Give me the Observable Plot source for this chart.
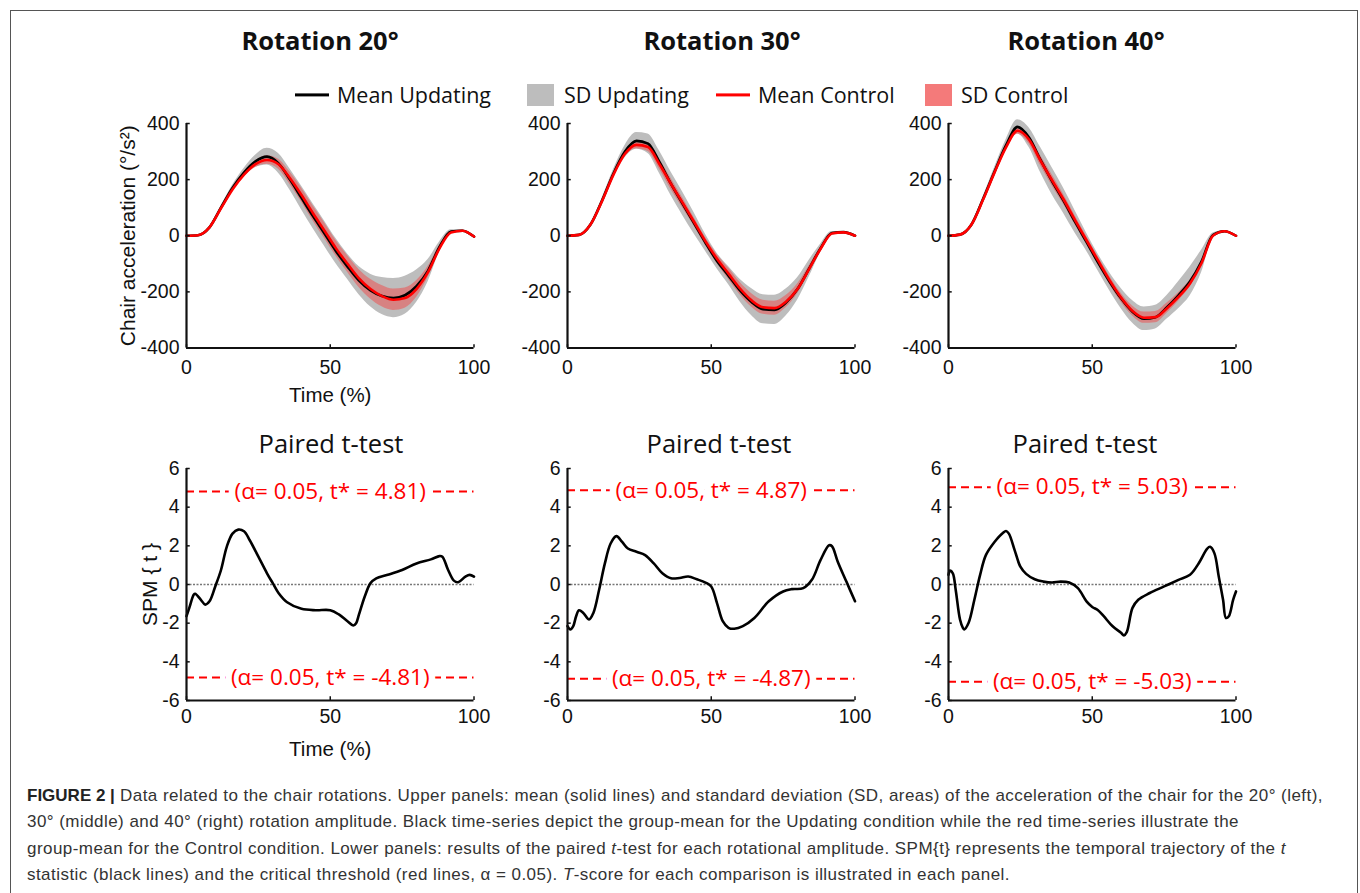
<!DOCTYPE html>
<html>
<head>
<meta charset="utf-8">
<script src="https://cdn.jsdelivr.net/npm/d3@7"></script>
<script src="https://cdn.jsdelivr.net/npm/@observablehq/plot@0.6"></script>
<style>
  html, body { margin: 0; padding: 0; background: #fff; }
  #page { position: relative; width: 1360px; height: 893px; overflow: hidden; background: #fff; }
  #frame { position: absolute; left: 10px; top: 10px; width: 1348px; height: 920px; border: 1.5px solid #555; box-sizing: border-box; }
  .abs { position: absolute; }
  .ctr { transform: translate(-50%, -50%); white-space: nowrap; line-height: 1; }
  .rot { font-family: "Open Sans", sans-serif; font-weight: 700; font-size: 25.5px; color: #111; }
  .ptt { font-family: "Open Sans", sans-serif; font-weight: 400; font-size: 25.5px; color: #111; }
  .leg { font-family: "Open Sans", sans-serif; font-size: 21.5px; color: #111; transform: translateY(-50%); white-space: nowrap; line-height: 1; }
  .sw  { transform: translateY(-50%); }
  #caption { position: absolute; left: 27px; top: 783px; font-family: "Liberation Sans", Arial, sans-serif; font-size: 17px; letter-spacing: 0.45px; line-height: 26.3px; color: #333; white-space: nowrap; }
  #caption b { color: #222; letter-spacing: 0; }
</style>
</head>
<body>
<div id="page">
  <div id="frame"></div>
</div>
<script>
// ---------------- DATA ----------------
const rotations = ["Rotation 20°", "Rotation 30°", "Rotation 40°"];
const legendLabels = ["Mean Updating", "SD Updating", "Mean Control", "SD Control"];
const topYTicks = [-400, -200, 0, 200, 400];
const botYTicks = [-6, -4, -2, 0, 2, 4, 6];
const xTicks = [0, 50, 100];
const topYLabel = "Chair acceleration (°/s²)";
const botYLabel = "SPM { t }";
const xLabel = "Time (%)";

// time (%) grid for the upper panels
const timeTop = [0, 4, 8, 12, 16, 20, 24, 28, 32, 36, 40, 44, 48, 52, 56, 60, 64, 68, 72, 76, 80, 84, 88, 92, 96, 100];

// Rotation 20°
const meanUpd20 = [0, 2, 30, 100, 170, 225, 265, 282, 258, 200, 135, 70, 8, -55, -110, -160, -195, -215, -222, -212, -180, -125, -40, 15, 18, -3];
const sdUpd20   = [0, 0, 3, 6, 10, 15, 22, 30, 35, 38, 42, 44, 45, 45, 45, 50, 58, 66, 70, 68, 58, 40, 18, 6, 3, 2];
const meanCtl20 = [0, 2, 30, 98, 165, 218, 255, 270, 255, 205, 145, 80, 18, -45, -100, -152, -190, -215, -228, -222, -190, -130, -45, 12, 18, -3];
const sdCtl20   = [0, 0, 2, 5, 8, 10, 12, 15, 18, 22, 25, 27, 28, 28, 30, 32, 35, 38, 38, 36, 30, 20, 10, 4, 2, 1];

// Rotation 30°
const meanUpd30 = [0, 3, 40, 125, 222, 300, 338, 328, 262, 185, 115, 45, -25, -90, -142, -195, -236, -262, -264, -238, -190, -118, -45, 10, 13, 0];
const sdUpd30   = [0, 0, 3, 8, 14, 22, 30, 35, 40, 42, 42, 38, 30, 28, 32, 40, 48, 52, 52, 48, 40, 30, 15, 5, 2, 1];
const meanCtl30 = [0, 3, 40, 123, 218, 292, 324, 316, 255, 185, 118, 50, -20, -82, -135, -188, -230, -255, -258, -235, -190, -120, -47, 8, 12, 0];
const sdCtl30   = [0, 0, 2, 4, 7, 10, 14, 16, 18, 20, 18, 15, 14, 16, 20, 22, 24, 25, 25, 22, 18, 12, 6, 3, 1, 0];

// Rotation 40°
const meanUpd40 = [0, 4, 40, 130, 228, 322, 388, 350, 270, 195, 125, 50, -22, -95, -163, -223, -271, -296, -290, -255, -212, -163, -92, 2, 16, 0];
const sdUpd40   = [0, 0, 3, 8, 14, 20, 25, 35, 45, 48, 45, 40, 32, 30, 32, 36, 40, 42, 42, 42, 48, 52, 40, 8, 3, 1];
const meanCtl40 = [0, 4, 40, 128, 225, 315, 374, 343, 268, 198, 130, 56, -16, -88, -158, -220, -268, -292, -290, -258, -218, -170, -98, 0, 16, 0];
const sdCtl40   = [0, 0, 2, 4, 6, 9, 12, 15, 18, 20, 18, 16, 14, 14, 15, 16, 18, 20, 20, 18, 15, 12, 8, 3, 1, 0];

// SPM{t} trajectories (paired t-test)
const spmTime20 = [0, 1, 2.5, 3, 5, 6.5, 8, 10, 12, 14, 16, 18, 20, 22, 25, 28, 30, 32, 35, 40, 45, 50, 53, 56, 58, 59, 60, 62, 64, 66, 70, 75, 80, 85, 88, 89, 91, 93, 94.5, 97, 98.5, 100];
const spm20     = [-1.64, -1.2, -0.53, -0.48, -0.79, -1.04, -0.87, -0.1, 0.75, 1.95, 2.63, 2.84, 2.75, 2.29, 1.44, 0.58, 0.07, -0.44, -0.92, -1.26, -1.33, -1.33, -1.55, -1.9, -2.12, -2.0, -1.55, -0.62, 0.07, 0.32, 0.5, 0.75, 1.09, 1.3, 1.47, 1.44, 0.75, 0.2, 0.12, 0.41, 0.5, 0.41];

const spmTime30 = [0, 1, 2, 3, 4, 5.5, 7.5, 9, 11, 13, 15, 17, 19, 21, 24, 27, 30, 33, 36, 39, 42, 45, 48, 50, 52, 54, 56, 58, 61, 65, 70, 75, 78, 82, 85, 88, 91, 92, 94, 97, 100];
const spm30     = [-2.15, -2.32, -2.15, -1.64, -1.33, -1.47, -1.81, -1.47, -0.27, 1.09, 2.12, 2.5, 2.2, 1.86, 1.69, 1.52, 1.09, 0.58, 0.32, 0.34, 0.41, 0.27, 0.1, -0.1, -0.96, -1.9, -2.24, -2.29, -2.15, -1.73, -0.87, -0.36, -0.24, -0.19, 0.24, 1.26, 2.03, 1.98, 1.18, 0.15, -0.87];

const spmTime40 = [0, 0.5, 1.5, 2.5, 4, 5, 5.5, 7, 9, 11, 13, 16, 19, 20, 21, 23, 25, 27, 30, 33, 36, 39, 42, 45, 48, 50, 52, 54, 57, 60, 61, 62, 64, 66, 70, 75, 80, 84, 87, 90, 91, 92.5, 94, 95.5, 96.5, 97.5, 99, 100];
const spm40     = [0.5, 0.72, 0.58, -0.27, -1.81, -2.24, -2.32, -1.98, -0.79, 0.5, 1.52, 2.2, 2.68, 2.77, 2.63, 1.78, 0.92, 0.55, 0.27, 0.15, 0.1, 0.15, 0.1, -0.19, -0.87, -1.16, -1.33, -1.64, -2.15, -2.5, -2.63, -2.46, -1.21, -0.79, -0.44, -0.1, 0.24, 0.5, 1.09, 1.86, 1.95, 1.61, 0.41, -0.79, -1.73, -1.64, -0.79, -0.36];

const thresholds = [4.81, 4.87, 5.03];
const alphaLevel = 0.05;

const caption = [
  "<b>FIGURE 2 |</b> Data related to the chair rotations. Upper panels: mean (solid lines) and standard deviation (SD, areas) of the acceleration of the chair for the 20° (left),",
  "30° (middle) and 40° (right) rotation amplitude. Black time-series depict the group-mean for the Updating condition while the red time-series illustrate the",
  "group-mean for the Control condition. Lower panels: results of the paired <i>t</i>-test for each rotational amplitude. SPM{t} represents the temporal trajectory of the <i>t</i>",
  "statistic (black lines) and the critical threshold (red lines, α = 0.05). <i>T</i>-score for each comparison is illustrated in each panel."
];

// ---------------- LAYOUT ----------------
const page = document.getElementById("page");
const plotLeft = [185.5, 566.7, 947.8];   // pixel position of x = 0 in each column
const plotW = 287.5;
const mL = 80, mR = 10, mT = 10, mB = 70;
const topY0 = 123, topH = 224.5;
const botY0 = 468, botH = 232;
const titleX = [320, 722, 1086];
const pttX = [331, 719, 1085];

const GRAY = "#bdbdbd", RED = "#ff0000";
const tickFont = '"Liberation Sans", Arial, sans-serif';

function place(node, left, top) {
  const d = document.createElement("div");
  d.className = "abs";
  d.style.left = left + "px";
  d.style.top = top + "px";
  d.appendChild(node);
  page.appendChild(d);
  return d;
}
function htmlText(cls, txt, x, y) {
  const d = document.createElement("div");
  d.className = "abs " + cls;
  d.style.left = x + "px";
  d.style.top = y + "px";
  d.innerHTML = txt;
  page.appendChild(d);
  return d;
}

const baseStyle = {fontFamily: tickFont, fontSize: "19.5px", background: "transparent", overflow: "visible", color: "#111"};

function axisLabels(showY, yLabel, yDx, showX, xDy) {
  const m = [];
  if (showY) m.push(Plot.text([yLabel], {frameAnchor: "left", textAnchor: "middle", lineAnchor: "middle", rotate: -90, dx: yDx, fontSize: 21, fill: "#111"}));
  if (showX) m.push(Plot.text([xLabel], {frameAnchor: "bottom", textAnchor: "middle", lineAnchor: "middle", dy: xDy, fontSize: 20.5, fill: "#111"}));
  return m;
}

function topPanel(mu, su, mc, sc, showY, showX) {
  const rows = timeTop.map((t, i) => ({t, mu: mu[i], lu: mu[i] - su[i], hu: mu[i] + su[i], mc: mc[i], lc: mc[i] - sc[i], hc: mc[i] + sc[i]}));
  return Plot.plot({
    width: mL + plotW + mR, height: mT + topH + mB,
    marginLeft: mL, marginRight: mR, marginTop: mT, marginBottom: mB,
    style: baseStyle,
    x: {domain: [0, 100]},
    y: {domain: [-400, 400]},
    marks: [
      Plot.areaY(rows, {x: "t", y1: "lu", y2: "hu", fill: GRAY, curve: "monotone-x"}),
      Plot.areaY(rows, {x: "t", y1: "lc", y2: "hc", fill: "#ff2a2a", fillOpacity: 0.4, curve: "monotone-x"}),
      Plot.line(rows, {x: "t", y: "mu", stroke: "#000", strokeWidth: 2.6, curve: "monotone-x"}),
      Plot.line(rows, {x: "t", y: "mc", stroke: RED, strokeWidth: 2.6, curve: "monotone-x"}),
      Plot.ruleY(topYTicks, {x1: 0, x2: 1.3, stroke: "#111", strokeWidth: 1.5}),
      Plot.ruleX(xTicks, {y1: -400, y2: -388, stroke: "#111", strokeWidth: 1.5}),
      Plot.ruleX([0], {y1: -400, y2: 400, stroke: "#111", strokeWidth: 2.2}),
      Plot.ruleY([-400], {x1: 0, x2: 100, stroke: "#111", strokeWidth: 2.2}),
      Plot.axisY(topYTicks, {tickSize: 0, tickPadding: 7, tickFormat: d => String(d), label: null}),
      Plot.axisX(xTicks, {tickSize: 0, tickPadding: 12, tickFormat: d => String(d), label: null}),
      ...axisLabels(showY, topYLabel, -58, showX, 47.5)
    ]
  });
}

function spmPanel(t, v, thr, showY, showX) {
  const rows = t.map((ti, i) => ({t: ti, v: v[i]}));
  const thr2 = [thr, -thr];
  return Plot.plot({
    width: mL + plotW + mR, height: mT + botH + mB,
    marginLeft: mL, marginRight: mR, marginTop: mT, marginBottom: mB,
    style: baseStyle,
    x: {domain: [0, 100]},
    y: {domain: [-6, 6]},
    marks: [
      Plot.ruleY([0], {x1: 0, x2: 100, stroke: "#777", strokeWidth: 1.3, strokeDasharray: "2,1.5"}),
      Plot.ruleY(thr2, {x1: 0, x2: 100, stroke: RED, strokeWidth: 2, strokeDasharray: "8,5"}),
      Plot.text(thr2, {x: 50, y: d => d, text: d => `(α= ${alphaLevel.toFixed(2)}, t* = ${d.toFixed(2)})`,
        fill: RED, stroke: "white", strokeWidth: 13, fontSize: 22.5, fontFamily: '"Open Sans", sans-serif'}),
      Plot.line(rows, {x: "t", y: "v", stroke: "#000", strokeWidth: 2.6, curve: "catmull-rom"}),
      Plot.ruleY(botYTicks, {x1: 0, x2: 1.3, stroke: "#111", strokeWidth: 1.5}),
      Plot.ruleX(xTicks, {y1: -6, y2: -5.8, stroke: "#111", strokeWidth: 1.5}),
      Plot.ruleX([0], {y1: -6, y2: 6, stroke: "#111", strokeWidth: 2.2}),
      Plot.ruleY([-6], {x1: 0, x2: 100, stroke: "#111", strokeWidth: 2.2}),
      Plot.axisY(botYTicks, {tickSize: 0, tickPadding: 7, tickFormat: d => String(d), label: null}),
      Plot.axisX(xTicks, {tickSize: 0, tickPadding: 9, tickFormat: d => String(d), label: null}),
      ...axisLabels(showY, botYLabel, -36, showX, 49)
    ]
  });
}

const topData = [
  [meanUpd20, sdUpd20, meanCtl20, sdCtl20],
  [meanUpd30, sdUpd30, meanCtl30, sdCtl30],
  [meanUpd40, sdUpd40, meanCtl40, sdCtl40]
];
const spmData = [[spmTime20, spm20], [spmTime30, spm30], [spmTime40, spm40]];

for (let c = 0; c < 3; c++) {
  const [mu, su, mc, sc] = topData[c];
  place(topPanel(mu, su, mc, sc, c === 0, c === 0), plotLeft[c] - mL, topY0 - mT);
  place(spmPanel(spmData[c][0], spmData[c][1], thresholds[c], c === 0, c === 0), plotLeft[c] - mL, botY0 - mT);
  htmlText("ctr rot", rotations[c], titleX[c], 41);
  htmlText("ctr ptt", "Paired t-test", pttX[c], 444);
}

// legend
function swatch(x, y, w, h, color, opacity) {
  const d = document.createElement("div");
  d.className = "abs sw";
  Object.assign(d.style, {left: x + "px", top: y + "px", width: w + "px", height: h + "px", background: color, opacity: opacity});
  page.appendChild(d);
}
const legY = 95;
swatch(295, legY, 34, 3.2, "#000", 1);
htmlText("leg", legendLabels[0], 337, legY);
swatch(527, legY, 27, 22, GRAY, 1);
htmlText("leg", legendLabels[1], 564, legY);
swatch(716, legY, 34, 3.2, RED, 1);
htmlText("leg", legendLabels[2], 758, legY);
swatch(925, legY, 27, 22, "#f47a7a", 1);
htmlText("leg", legendLabels[3], 961, legY);

// caption
const cap = document.createElement("div");
cap.id = "caption";
cap.innerHTML = caption.join("<br>");
page.appendChild(cap);
</script>
</body>
</html>
